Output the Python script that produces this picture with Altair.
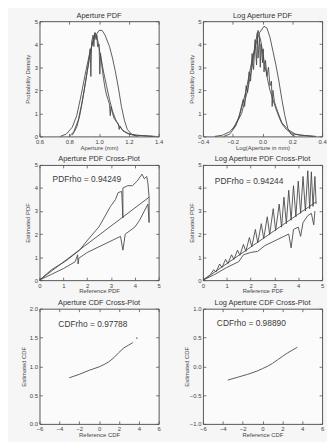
import altair as alt
import pandas as pd

# ---------------- Panel 1: Aperture PDF ----------------
p1_a_x = [0.74, 0.78, 0.82, 0.85, 0.88, 0.91, 0.94, 0.97, 1.00, 1.02, 1.04, 1.07, 1.09, 1.11, 1.13, 1.15, 1.17, 1.19, 1.22, 1.26]
p1_a_y = [0.0, 0.1, 0.4, 0.9, 1.8, 2.8, 3.7, 4.3, 4.6, 4.6, 4.4, 3.9, 3.4, 2.8, 2.1, 1.3, 0.7, 0.3, 0.08, 0.0]
p1_b_x = [0.80, 0.83, 0.86, 0.88, 0.90, 0.92, 0.94, 0.96, 0.975, 0.99, 1.01, 1.03, 1.05, 1.07, 1.09, 1.11, 1.13, 1.16, 1.20, 1.25, 1.30, 1.36]
p1_b_y = [0.0, 0.2, 0.7, 1.3, 2.0, 2.8, 3.6, 4.2, 4.5, 4.2, 3.5, 2.8, 2.2, 1.6, 1.1, 0.75, 0.5, 0.25, 0.12, 0.05, 0.03, 0.0]
p1_c_x = [0.82, 0.85, 0.87, 0.89, 0.91, 0.93, 0.94, 0.945, 0.95, 0.96, 0.965, 0.97, 0.98, 0.985, 0.99, 1.00, 1.005, 1.01, 1.02, 1.03, 1.04, 1.05, 1.06, 1.07, 1.075, 1.08, 1.09, 1.10, 1.12, 1.13, 1.135, 1.14, 1.16, 1.19, 1.23, 1.28, 1.33, 1.38]
p1_c_y = [0.05, 0.4, 0.9, 1.6, 2.4, 3.2, 3.8, 2.6, 4.1, 4.4, 3.9, 4.5, 4.2, 4.4, 3.9, 4.0, 2.7, 3.6, 3.0, 2.5, 2.1, 1.8, 1.6, 1.4, 0.9, 1.3, 1.0, 0.8, 0.6, 0.55, 0.3, 0.45, 0.25, 0.12, 0.06, 0.04, 0.02, 0.0]

# ---------------- Panel 2: Log Aperture PDF ----------------
p2_a_x = [-0.26, -0.22, -0.18, -0.15, -0.11, -0.08, -0.05, -0.02, 0.01, 0.03, 0.05, 0.07, 0.09, 0.11, 0.13, 0.15, 0.17, 0.19, 0.22]
p2_a_y = [0.0, 0.1, 0.45, 1.0, 2.0, 3.0, 3.9, 4.5, 4.78, 4.7, 4.3, 3.7, 3.1, 2.4, 1.6, 0.9, 0.35, 0.1, 0.0]
p2_b_x = [-0.32, -0.27, -0.22, -0.18, -0.14, -0.10, -0.07, -0.05, -0.03, -0.01, 0.01, 0.03, 0.05, 0.07, 0.09, 0.11, 0.13, 0.16, 0.20, 0.25, 0.30, 0.36]
p2_b_y = [0.0, 0.05, 0.2, 0.5, 1.0, 2.0, 3.0, 4.0, 4.6, 4.1, 3.3, 2.6, 2.0, 1.6, 1.2, 0.85, 0.55, 0.3, 0.12, 0.05, 0.03, 0.0]
p2_c_x = [-0.2, -0.16, -0.13, -0.12, -0.11, -0.10, -0.09, -0.08, -0.07, -0.06, -0.05, -0.04, -0.035, -0.03, -0.02, -0.015, -0.01, 0.0, 0.005, 0.01, 0.02, 0.03, 0.04, 0.05, 0.06, 0.065, 0.07, 0.08, 0.1, 0.13, 0.17, 0.22, 0.28, 0.34]
p2_c_y = [0.3, 0.8, 1.6, 1.3, 2.2, 1.9, 2.8, 2.4, 3.6, 2.9, 4.2, 3.1, 4.5, 3.4, 4.3, 3.0, 4.0, 3.2, 3.8, 2.8, 3.3, 2.6, 3.0, 2.2, 2.4, 1.3, 2.0, 1.5, 1.1, 0.6, 0.3, 0.1, 0.04, 0.0]

# ---------------- Panel 3: Aperture PDF Cross-Plot ----------------
p3_fit_x = [0.0, 4.6]
p3_fit_y = [0.0, 3.6]
p3_up_x = [0.0, 0.5, 1.13, 1.68, 2.02, 2.5, 2.98, 3.19, 3.3, 3.45, 3.5, 3.5, 3.7, 3.9, 4.1, 4.3, 4.4, 4.5, 4.55, 4.6, 4.6]
p3_up_y = [0.0, 0.45, 0.85, 1.3, 1.74, 2.32, 3.2, 3.5, 3.8, 3.85, 2.7, 4.0, 4.1, 4.1, 4.3, 4.6, 4.4, 4.5, 4.2, 3.6, 2.5]
p3_lo_x = [0.0, 0.5, 1.0, 1.5, 1.6, 1.62, 1.65, 2.0, 2.5, 3.0, 3.4, 3.5, 3.6, 4.0, 4.2, 4.4, 4.55, 4.6]
p3_lo_y = [0.0, 0.25, 0.5, 0.8, 1.1, 0.7, 0.95, 1.2, 1.45, 1.7, 1.9, 1.3, 2.0, 2.3, 2.6, 3.0, 3.3, 2.5]

# ---------------- Panel 4: Log Aperture PDF Cross-Plot ----------------
p4_fit_x = [0.0, 4.75]
p4_fit_y = [0.0, 3.4]
p4_up_x = [0.0, 0.3, 0.45, 0.55, 0.7, 0.8, 0.95, 1.05, 1.2, 1.3, 1.45, 1.55, 1.7, 1.8, 1.95, 2.05, 2.2, 2.3, 2.45, 2.55, 2.7, 2.8, 2.95, 3.05, 3.2, 3.3, 3.4, 3.5, 3.6, 3.7, 3.8, 3.9, 4.0, 4.1, 4.2, 4.3, 4.4, 4.48, 4.55, 4.62, 4.7, 4.75]
p4_up_y = [0.0, 0.22, 0.45, 0.35, 0.7, 0.55, 0.9, 0.72, 1.1, 0.9, 1.3, 1.08, 1.55, 1.25, 1.85, 1.45, 2.2, 1.62, 2.45, 1.8, 2.75, 1.98, 3.1, 2.15, 3.3, 2.3, 3.6, 2.45, 3.9, 2.6, 4.1, 2.75, 4.3, 2.9, 4.5, 3.0, 4.75, 3.1, 4.7, 3.2, 4.5, 3.3]
p4_lo_x = [0.0, 0.5, 1.0, 1.5, 1.7, 2.0, 2.3, 2.6, 3.0, 3.4, 3.6, 3.7, 3.8, 4.0, 4.1, 4.2, 4.4, 4.55, 4.65, 4.7]
p4_lo_y = [0.0, 0.25, 0.55, 0.8, 1.1, 1.2, 1.25, 1.5, 1.7, 1.9, 2.0, 1.4, 2.2, 2.3, 1.9, 2.5, 2.8, 2.9, 2.4, 3.0]

# ---------------- Panel 5: Aperture CDF Cross-Plot ----------------
p5_x = [-3.0, -2.0, -1.0, 0.0, 0.5, 1.0, 1.5, 2.0, 2.5, 3.0, 3.4]
p5_y = [0.80, 0.86, 0.93, 0.99, 1.03, 1.08, 1.15, 1.24, 1.32, 1.37, 1.41]
p5_dot_x = [3.8]
p5_dot_y = [1.49]

# ---------------- Panel 6: Log Aperture CDF Cross-Plot ----------------
p6_x = [-3.5, -2.5, -1.5, -0.5, 0.0, 0.5, 1.0, 1.5, 2.0, 2.5, 3.0, 3.5]
p6_y = [-0.24, -0.19, -0.14, -0.08, -0.04, 0.0, 0.05, 0.11, 0.17, 0.23, 0.28, 0.33]

titles = ["Aperture PDF", "Log Aperture PDF", "Aperture PDF Cross-Plot",
          "Log Aperture PDF Cross-Plot", "Aperture CDF Cross-Plot", "Log Aperture CDF Cross-Plot"]
annotations = ["", "", "PDFrho = 0.94249", "PDFrho = 0.94244", "CDFrho = 0.97788", "CDFrho = 0.98890"]

W, H = 121, 117
LINE = "#4a4a4a"
FONT = "Liberation Sans"
TICK = 3


def series(*pairs):
    rows = []
    for name, xs, ys in pairs:
        for i, (a, b) in enumerate(zip(xs, ys)):
            rows.append({"x": a, "y": b, "s": name, "o": i})
    return pd.DataFrame(rows)


def panel(df, xdom, ydom, xvals, yvals, xfmt, yfmt, title, xtitle, ytitle,
          note=None, note_xy=None, dots=None, yext=10):
    xsc = alt.Scale(domain=xdom, nice=False, zero=False)
    ysc = alt.Scale(domain=ydom, nice=False, zero=False)
    xs = alt.X("x:Q", scale=xsc,
               axis=alt.Axis(values=xvals, format=xfmt, title=xtitle))
    ys = alt.Y("y:Q", scale=ysc,
               axis=alt.Axis(values=yvals, format=yfmt, title=ytitle,
                             minExtent=yext, maxExtent=yext))
    lines = alt.Chart(df).mark_line(color=LINE, strokeWidth=0.9).encode(
        x=xs, y=ys, detail="s:N", order="o:Q")
    frame = alt.Chart(df).mark_point(opacity=0).encode(
        x=alt.X("x:Q", scale=xsc, axis=alt.Axis(orient="top", values=xvals, labels=False, title=None)),
        y=alt.Y("y:Q", scale=ysc, axis=alt.Axis(orient="right", values=yvals, labels=False, title=None)))
    layers = [lines, frame]
    if dots is not None:
        layers.append(alt.Chart(dots).mark_point(color=LINE, size=3, filled=True).encode(
            x=alt.X("x:Q", axis=None), y=alt.Y("y:Q", axis=None)))
    if note:
        tdf = pd.DataFrame({"x": [note_xy[0]], "y": [note_xy[1]], "t": [note]})
        layers.append(alt.Chart(tdf).mark_text(align="left", baseline="middle", fontSize=8.5,
                                               font=FONT, color="#3a3a3a").encode(
            x=alt.X("x:Q", axis=None), y=alt.Y("y:Q", axis=None), text="t:N"))
    return alt.layer(*layers).resolve_axis(x="independent", y="independent").properties(
        width=W, height=H,
        title=alt.TitleParams(title, fontSize=7.5, font=FONT, fontWeight="normal",
                              color="#333", offset=-1))


c1 = panel(series(("a", p1_a_x, p1_a_y), ("b", p1_b_x, p1_b_y), ("c", p1_c_x, p1_c_y)),
           [0.6, 1.4], [0, 5], [0.6, 0.8, 1.0, 1.2, 1.4], [0, 1, 2, 3, 4, 5], ".1f", "d",
           titles[0], "Aperture (mm)", "Probability Density")
c2 = panel(series(("a", p2_a_x, p2_a_y), ("b", p2_b_x, p2_b_y), ("c", p2_c_x, p2_c_y)),
           [-0.4, 0.4], [0, 5], [-0.4, -0.2, 0.0, 0.2, 0.4], [0, 1, 2, 3, 4, 5], ".1f", "d",
           titles[1], "Log(Aperture in mm)", "Probability Density")
c3 = panel(series(("fit", p3_fit_x, p3_fit_y), ("up", p3_up_x, p3_up_y), ("lo", p3_lo_x, p3_lo_y)),
           [0, 5], [0, 5], [0, 1, 2, 3, 4, 5], [0, 1, 2, 3, 4, 5], "d", "d",
           titles[2], "Reference PDF", "Estimated PDF", annotations[2], (0.55, 4.38))
c4 = panel(series(("fit", p4_fit_x, p4_fit_y), ("up", p4_up_x, p4_up_y), ("lo", p4_lo_x, p4_lo_y)),
           [0, 5], [0, 5], [0, 1, 2, 3, 4, 5], [0, 1, 2, 3, 4, 5], "d", "d",
           titles[3], "Reference PDF", "Estimated PDF", annotations[3], (0.5, 4.3))
c5 = panel(series(("cdf", p5_x, p5_y)),
           [-6, 6], [0, 2], [-6, -4, -2, 0, 2, 4, 6], [0, 0.5, 1.0, 1.5, 2.0], "d", ".1f",
           titles[4], "Reference CDF", "Estimated CDF", annotations[4], (-4.1, 1.74),
           dots=pd.DataFrame({"x": p5_dot_x, "y": p5_dot_y}), yext=14)
c6 = panel(series(("cdf", p6_x, p6_y)),
           [-6, 6], [-1, 1], [-6, -4, -2, 0, 2, 4, 6], [-1.0, -0.5, 0.0, 0.5, 1.0], "d", ".1f",
           titles[5], "Reference CDF", "Estimated CDF", annotations[5], (-4.6, 0.75), yext=15)

chart = alt.concat(c1, c2, c3, c4, c5, c6, columns=2,
                   spacing={"row": 29, "column": 45}, bounds="flush").properties(
    background="#f6f6f6",
    padding={"left": 12, "top": 0, "right": 0, "bottom": 0},
).configure_view(
    stroke="#555", strokeWidth=1, fill="#fbfbfb"
).configure_axis(
    grid=False, domain=False, tickColor="#555", tickSize=TICK, tickWidth=0.8, offset=-TICK,
    labelFontSize=6, labelFont=FONT, labelColor="#444", labelPadding=2,
    labelOverlap=False, labelFlush=False,
    titleFontSize=6, titleFont=FONT, titleColor="#444", titleFontWeight="normal",
    titlePadding=2
).configure_axisX(
    labelPadding=2, titlePadding=0
)

chart.save("out.html", embed_options={"renderer": "svg", "actions": False})
